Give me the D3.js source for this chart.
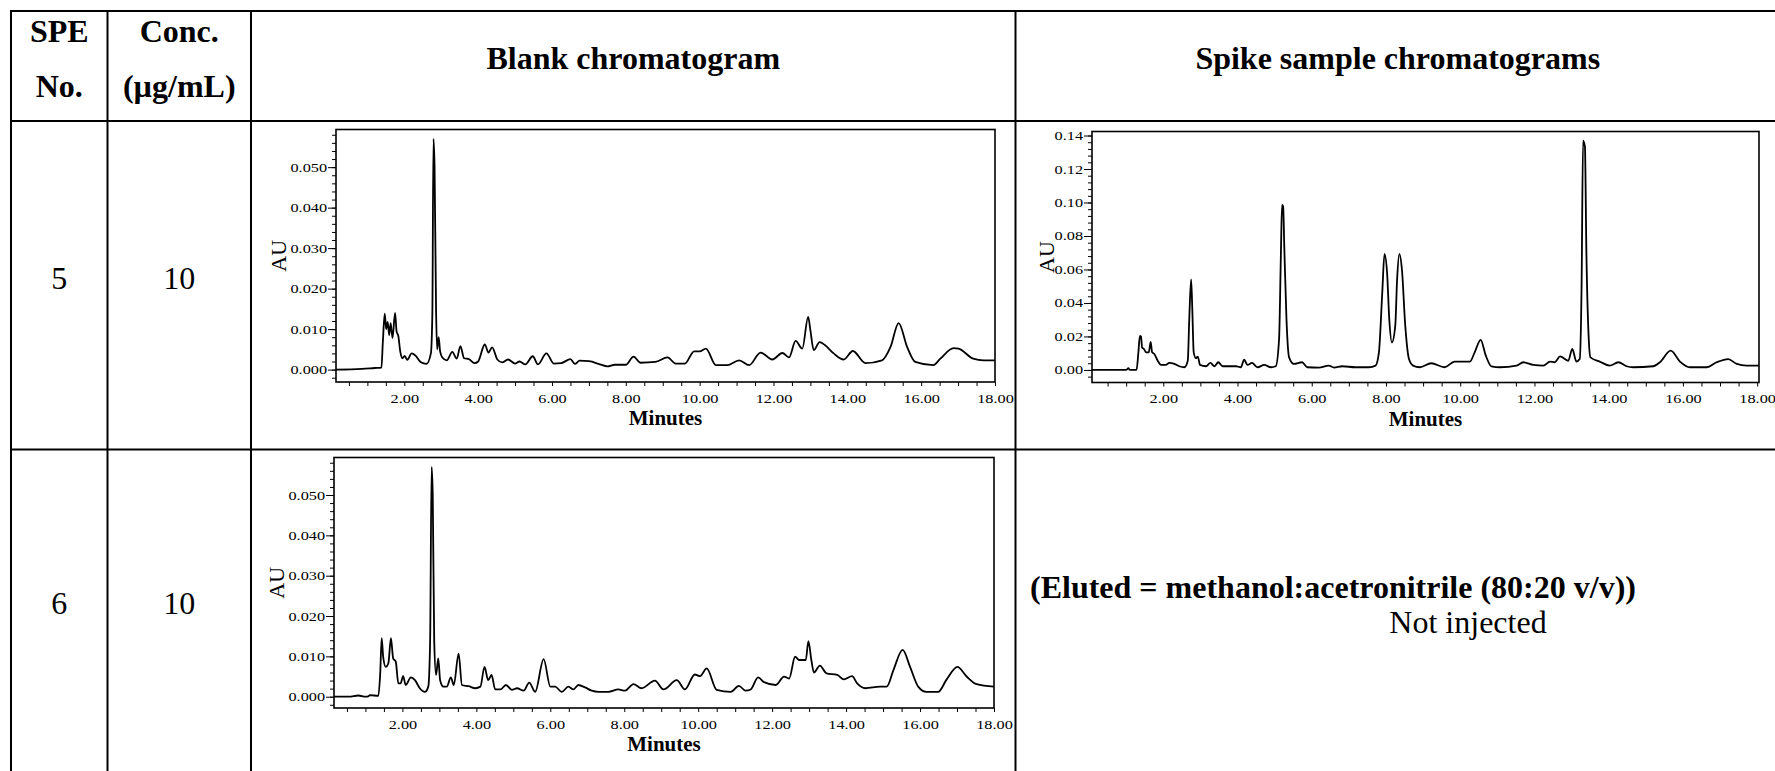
<!DOCTYPE html>
<html>
<head>
<meta charset="utf-8">
<script src="https://cdn.jsdelivr.net/npm/d3@7"></script>
<style>
  body { margin: 0; background: #fff; }
  svg { display: block; font-family: 'Liberation Serif', 'Times New Roman', serif; }
</style>
</head>
<body>
<svg id="page" width="1775" height="771"></svg>
<script>
// table text
const headers = ['Blank chromatogram', 'Spike sample chromatograms'];
const speNo = ['5', '6'];
const concentration = ['10', '10'];
const elutedNote = '(Eluted = methanol:acetronitrile (80:20 v/v))';
const notInjected = 'Not injected';

// axis ticks
const xLabelMinutes = [2, 4, 6, 8, 10, 12, 14, 16, 18];
const blankYTicks = [0, 0.01, 0.02, 0.03, 0.04, 0.05];
const spikeYTicks = [0, 0.02, 0.04, 0.06, 0.08, 0.1, 0.12, 0.14];

// SPE 5 blank trace (minutes, AU)
const blank5Time = [0.15, 0.85, 1.2, 1.38, 1.42, 1.47, 1.51, 1.55, 1.59, 1.63,
  1.68, 1.75, 1.79, 1.84, 1.89, 1.95, 2.01, 2.08, 2.2, 2.3,
  2.45, 2.6, 2.72, 2.76, 2.79, 2.82, 2.86, 2.89, 2.93, 2.97,
  3.03, 3.15, 3.3, 3.42, 3.52, 3.62, 3.75, 3.9, 4.0, 4.18,
  4.28, 4.38, 4.52, 4.65, 4.81, 5.0, 5.12, 5.28, 5.48, 5.62,
  5.85, 6.05, 6.25, 6.5, 6.62, 6.75, 7.0, 7.3, 7.5, 7.7,
  8.0, 8.21, 8.4, 8.8, 9.13, 9.35, 9.6, 9.85, 10.0, 10.17,
  10.44, 10.75, 11.07, 11.34, 11.65, 11.97, 12.24, 12.42, 12.6, 12.78,
  12.94, 13.0, 13.09, 13.25, 13.4, 13.63, 13.9, 14.15, 14.49, 14.94,
  15.17, 15.39, 15.62, 15.84, 16.33, 16.52, 16.88, 17.01, 17.41, 17.69, 18.0];
const blank5AU = [0, 0.0002, 0.0004, 0.0005, 0.007, 0.0138, 0.010, 0.0118, 0.0085, 0.0115,
  0.0078, 0.014, 0.0095, 0.0082, 0.0045, 0.0028, 0.0034, 0.0024, 0.004, 0.0035,
  0.0018, 0.0014, 0.004, 0.014, 0.057, 0.050, 0.015, 0.005, 0.008, 0.0045,
  0.003, 0.0023, 0.0044, 0.0027, 0.0058, 0.0028, 0.0026, 0.0016, 0.002, 0.0062,
  0.0042, 0.0055, 0.0025, 0.0018, 0.0025, 0.0015, 0.002, 0.0013, 0.0033, 0.0013,
  0.004, 0.0015, 0.0016, 0.0026, 0.0014, 0.0022, 0.0021, 0.0013, 0.0008, 0.0012,
  0.0012, 0.0032, 0.0017, 0.0019, 0.003, 0.0015, 0.0015, 0.0045, 0.0045, 0.0052,
  0.0011, 0.0011, 0.0023, 0.0011, 0.0042, 0.0025, 0.0041, 0.003, 0.0071, 0.0052,
  0.013, 0.0097, 0.0048, 0.0068, 0.006, 0.004, 0.0025, 0.0046, 0.0016, 0.0023,
  0.0056, 0.0115, 0.0056, 0.0019, 0.0011, 0.0027, 0.0053, 0.0052, 0.0027, 0.0023, 0.0023];

// SPE 5 spike sample trace
const spike5Time = [0.08, 1.0, 1.06, 1.1, 1.28, 1.33, 1.37, 1.40, 1.43, 1.48,
  1.54, 1.61, 1.66, 1.70, 1.76, 1.85, 1.94, 2.07, 2.16, 2.30,
  2.43, 2.57, 2.66, 2.70, 2.75, 2.78, 2.82, 2.88, 2.93, 2.99,
  3.15, 3.27, 3.38, 3.48, 3.6, 3.96, 4.09, 4.18, 4.27, 4.39,
  4.54, 4.72, 4.90, 5.03, 5.12, 5.17, 5.20, 5.23, 5.26, 5.32,
  5.39, 5.52, 5.74, 5.88, 6.19, 6.46, 6.6, 6.82, 7.18, 7.54,
  7.72, 7.81, 7.9, 7.96, 8.03, 8.09, 8.16, 8.25, 8.3, 8.36,
  8.43, 8.52, 8.62, 8.73, 8.91, 9.22, 9.58, 9.85, 10.26, 10.39,
  10.55, 10.69, 10.84, 11.07, 11.52, 11.7, 11.97, 12.24, 12.42, 12.55,
  12.69, 12.91, 13.02, 13.13, 13.22, 13.27, 13.31, 13.36, 13.4, 13.46,
  13.51, 13.76, 14.03, 14.26, 14.48, 14.66, 15.2, 15.38, 15.67, 15.92,
  16.19, 16.64, 16.91, 17.22, 17.45, 17.72, 18.05];
const spike5AU = [0, 0, 0.001, 0, 0.0001, 0.0105, 0.0204, 0.020, 0.0134, 0.0125,
  0.0105, 0.0105, 0.0168, 0.0105, 0.0095, 0.0055, 0.003, 0.003, 0.0042, 0.0036,
  0.0022, 0.0016, 0.0055, 0.030, 0.054, 0.038, 0.0105, 0.007, 0.008, 0.003,
  0.0022, 0.0042, 0.0022, 0.0046, 0.0022, 0.0022, 0.0016, 0.0061, 0.003, 0.0042,
  0.0016, 0.003, 0.0016, 0.0022, 0.0184, 0.070, 0.0986, 0.0976, 0.0738, 0.030,
  0.0075, 0.0036, 0.0046, 0.0016, 0.0014, 0.0026, 0.0014, 0.0022, 0.0016, 0.0016,
  0.0026, 0.0105, 0.0461, 0.0693, 0.058, 0.030, 0.0164, 0.0263, 0.054, 0.0693,
  0.060, 0.0263, 0.0065, 0.0026, 0.0016, 0.004, 0.0016, 0.005, 0.005, 0.0105,
  0.018, 0.0085, 0.0022, 0.0016, 0.0026, 0.0046, 0.003, 0.0026, 0.005, 0.0046,
  0.0081, 0.0055, 0.0125, 0.005, 0.0065, 0.050, 0.137, 0.1335, 0.0698, 0.020,
  0.0075, 0.005, 0.0026, 0.0046, 0.0022, 0.0016, 0.0022, 0.0046, 0.0115, 0.005,
  0.0016, 0.0016, 0.0046, 0.0065, 0.0036, 0.0026, 0.0026];

// SPE 6 blank trace
const blank6Time = [0.15, 0.55, 0.81, 1.0, 1.08, 1.12, 1.35, 1.40, 1.44, 1.48,
  1.55, 1.62, 1.69, 1.75, 1.82, 1.89, 1.95, 2.02, 2.09, 2.23,
  2.34, 2.47, 2.61, 2.70, 2.75, 2.79, 2.82, 2.86, 2.91, 2.97,
  3.02, 3.11, 3.2, 3.31, 3.39, 3.52, 3.61, 3.79, 3.97, 4.11,
  4.22, 4.32, 4.41, 4.51, 4.65, 4.80, 4.96, 5.1, 5.28, 5.43,
  5.59, 5.82, 6.0, 6.13, 6.31, 6.49, 6.62, 6.76, 6.94, 7.12,
  7.3, 7.57, 7.84, 8.02, 8.25, 8.47, 8.83, 9.06, 9.42, 9.64,
  9.91, 10.05, 10.23, 10.5, 10.88, 11.1, 11.28, 11.42, 11.62, 11.78,
  12.1, 12.32, 12.46, 12.62, 12.73, 12.91, 12.98, 13.06, 13.13, 13.29,
  13.47, 13.76, 13.94, 14.16, 14.3, 14.52, 14.92, 15.1, 15.28, 15.53,
  15.73, 15.95, 16.17, 16.49, 16.72, 17.01, 17.26, 17.53, 18.0];
const blank6AU = [0, 0, 0.0003, 0, 0.0001, 0.0004, 0.0002, 0.0058, 0.0145, 0.0099,
  0.0074, 0.0083, 0.0145, 0.0095, 0.0087, 0.0033, 0.0033, 0.0051, 0.0029, 0.0048,
  0.0041, 0.0021, 0.0012, 0.0025, 0.014, 0.057, 0.0504, 0.014, 0.0054, 0.0095,
  0.0041, 0.0025, 0.0025, 0.0048, 0.0029, 0.0107, 0.0029, 0.0026, 0.0021, 0.0025,
  0.0074, 0.0041, 0.0054, 0.0018, 0.0018, 0.0029, 0.0017, 0.0021, 0.0015, 0.0035,
  0.0012, 0.0093, 0.0025, 0.0025, 0.0012, 0.0025, 0.0018, 0.0029, 0.0023, 0.0015,
  0.0012, 0.0012, 0.0018, 0.0015, 0.0031, 0.0021, 0.004, 0.0018, 0.0041, 0.0018,
  0.0055, 0.0051, 0.007, 0.0017, 0.0012, 0.0027, 0.0015, 0.0018, 0.0048, 0.0036,
  0.0029, 0.005, 0.0045, 0.0099, 0.0091, 0.0091, 0.0138, 0.0091, 0.006, 0.0077,
  0.0058, 0.0054, 0.0043, 0.0051, 0.0033, 0.0021, 0.0025, 0.0025, 0.0066, 0.0116,
  0.0074, 0.0025, 0.0012, 0.0012, 0.0043, 0.0074, 0.005, 0.0031, 0.0025];

const svg = d3.select('#page');

// ---- table grid ----
const W = 1775;
const H = 771;
const colX = [11, 107.5, 251, 1015.5];
const rowY = [11, 121, 449.5];

const grid = svg.append('g').attr('stroke', '#000').attr('stroke-width', 2);
rowY.forEach((y) => grid.append('line').attr('x1', colX[0] - 1).attr('x2', W).attr('y1', y).attr('y2', y));
colX.forEach((x) => grid.append('line').attr('x1', x).attr('x2', x).attr('y1', rowY[0] - 1).attr('y2', H));

const cellFont = 32;
function cellText(txt, x, y, bold, anchor = 'middle') {
  return svg.append('text')
    .attr('x', x).attr('y', y)
    .attr('text-anchor', anchor)
    .attr('font-size', cellFont)
    .attr('font-weight', bold ? 'bold' : 'normal')
    .text(txt);
}

// header
const c1 = (colX[0] + colX[1]) / 2;
const c2 = (colX[1] + colX[2]) / 2;
cellText('SPE', c1, 42, true);
cellText('No.', c1, 97, true);
cellText('Conc.', c2, 42, true);
cellText('(µg/mL)', c2, 97, true);
cellText(headers[0], (colX[2] + colX[3]) / 2, 69, true);
cellText(headers[1], (colX[3] + 1780) / 2, 69, true);

// body rows
const rowBase = [289, 614];
speNo.forEach((s, i) => {
  cellText(s, c1, rowBase[i], false);
  cellText(concentration[i], c2, rowBase[i], false);
});
cellText(elutedNote, 1030, 598, true, 'start');
cellText(notInjected, 1468, 633, false);

// ---- chromatograms ----
function stretch(sel, k) {
  sel.each(function () {
    const w = this.getComputedTextLength();
    if (w > 0) d3.select(this).attr('textLength', w * k).attr('lengthAdjust', 'spacingAndGlyphs');
  });
}

function drawChart(cfg) {
  const g = svg.append('g');
  const x = d3.scaleLinear(cfg.xDomain, [cfg.left, cfg.right]);
  const y = d3.scaleLinear(cfg.yDomain, [cfg.bottom, cfg.top]);

  // x axis, ticks every half minute
  const xTicks = d3.range(1, 37).map((i) => i * 0.5);
  const xa = g.append('g')
    .attr('transform', `translate(0,${cfg.bottom})`)
    .call(d3.axisBottom(x).tickValues(xTicks).tickSize(4).tickSizeOuter(0)
      .tickFormat((d) => (xLabelMinutes.includes(d) ? d3.format('.2f')(d) : '')));
  xa.select('.domain').remove();
  xa.attr('font-family', null);
  const xt = xa.selectAll('text').attr('font-size', 12.5).attr('y', 20.5).attr('dy', 0);
  stretch(xt, 1.3);

  // y axis: minor and major ticks
  const ya = g.append('g').attr('transform', `translate(${cfg.left},0)`);
  ya.append('g').call(d3.axisLeft(y).tickValues(cfg.minor).tickSize(4).tickFormat(''))
    .select('.domain').remove();
  const major = ya.append('g').call(d3.axisLeft(y).tickValues(cfg.major).tickSize(8)
    .tickPadding(1).tickFormat(d3.format(cfg.fmt)));
  major.select('.domain').remove();
  major.attr('font-family', null);
  stretch(major.selectAll('text').attr('font-size', 12.5), 1.3);

  // frame
  g.append('rect')
    .attr('x', cfg.left).attr('y', cfg.top)
    .attr('width', cfg.right - cfg.left).attr('height', cfg.bottom - cfg.top)
    .attr('fill', 'none').attr('stroke', '#000').attr('stroke-width', 1.6);

  // trace
  const pts = cfg.time.map((t, i) => [t, cfg.au[i]]);
  g.append('path')
    .datum(pts)
    .attr('fill', 'none')
    .attr('stroke', '#000')
    .attr('stroke-width', 1.8)
    .attr('stroke-linejoin', 'round')
    .attr('d', d3.line().x((d) => x(d[0])).y((d) => y(d[1])).curve(d3.curveMonotoneX));

  // labels
  g.append('text')
    .attr('transform', `translate(${cfg.left - cfg.auOffset},${(cfg.top + cfg.bottom) / 2}) rotate(-90)`)
    .attr('text-anchor', 'middle')
    .attr('font-size', 22)
    .text('AU');
  g.append('text')
    .attr('x', (cfg.left + cfg.right) / 2).attr('y', cfg.bottom + 43)
    .attr('text-anchor', 'middle')
    .attr('font-size', 21).attr('font-weight', 'bold')
    .text('Minutes');
}

const blankMinor = d3.range(-1, 30).map((i) => i * 0.002);
const spikeMinor = d3.range(-1, 36).map((i) => i * 0.004);

drawChart({
  left: 336, right: 995, top: 129.5, bottom: 382,
  xDomain: [0.15, 18], yDomain: [-0.00306, 0.0593],
  major: blankYTicks, minor: blankMinor, fmt: '.3f', auOffset: 50,
  time: blank5Time, au: blank5AU,
});
drawChart({
  left: 1092, right: 1759, top: 131.5, bottom: 382.5,
  xDomain: [0.08, 18.05], yDomain: [-0.0075, 0.1424],
  major: spikeYTicks, minor: spikeMinor, fmt: '.2f', auOffset: 38,
  time: spike5Time, au: spike5AU,
});
drawChart({
  left: 334, right: 994, top: 457.5, bottom: 708,
  xDomain: [0.15, 18], yDomain: [-0.0028, 0.0593],
  major: blankYTicks, minor: blankMinor, fmt: '.3f', auOffset: 50,
  time: blank6Time, au: blank6AU,
});
</script>
</body>
</html>
